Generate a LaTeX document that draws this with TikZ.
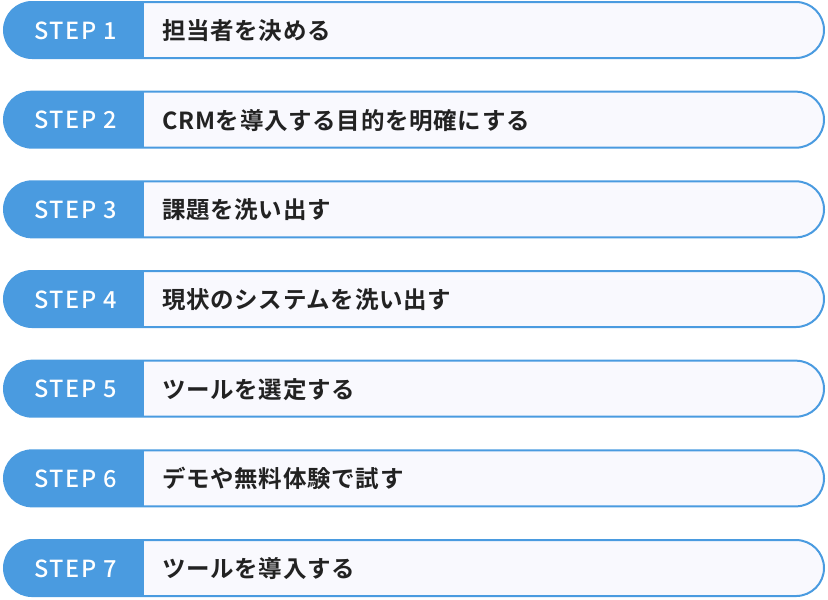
\documentclass[tikz,border=0pt]{standalone}
\usepackage{fontspec}
\newfontfamily\jpb{Noto Sans CJK JP}[BoldFont={Noto Sans CJK JP Bold},LetterSpace=3]
\newfontfamily\stepf{Noto Sans CJK JP Medium}[LetterSpace=7]
\definecolor{stepblue}{HTML}{4A9BE0}
\definecolor{boxfill}{HTML}{F9F9FE}
\definecolor{txt}{HTML}{222222}
\tikzset{
  steplabel/.style={text=white,font=\stepf\fontsize{23.5}{24}\selectfont,anchor=center,inner sep=0pt},
  steptext/.style={text=txt,font=\jpb\bfseries\fontsize{23.5}{26}\selectfont,anchor=west,inner sep=0pt},
}
\newcommand{\steprow}[3]{%
  \begin{scope}[yshift=-#1*89.67pt]
    \begin{scope}
      \clip[rounded corners=28pt] (4pt,-2pt) rectangle (824pt,-58pt);
      \fill[boxfill] (4pt,-2pt) rectangle (824pt,-58pt);
      \fill[stepblue] (4pt,-2pt) rectangle (144pt,-58pt);
    \end{scope}
    \draw[stepblue,line width=2pt,rounded corners=28pt] (4pt,-2pt) rectangle (824pt,-58pt);
    \node[steplabel] (s#2) at (75.5pt,-30.5pt) {STEP #2};
    \node[steptext] (t#2) at (162pt,-30.5pt) {#3};
  \end{scope}}
\begin{document}
\begin{tikzpicture}[x=1pt,y=1pt]
\useasboundingbox (0,0) rectangle (828,-600);
\steprow{0}{1}{担当者を決める}
\steprow{1}{2}{CRMを導入する目的を明確にする}
\steprow{2}{3}{課題を洗い出す}
\steprow{3}{4}{現状のシステムを洗い出す}
\steprow{4}{5}{ツールを選定する}
\steprow{5}{6}{デモや無料体験で試す}
\steprow{6}{7}{ツールを導入する}
\end{tikzpicture}
\end{document}
